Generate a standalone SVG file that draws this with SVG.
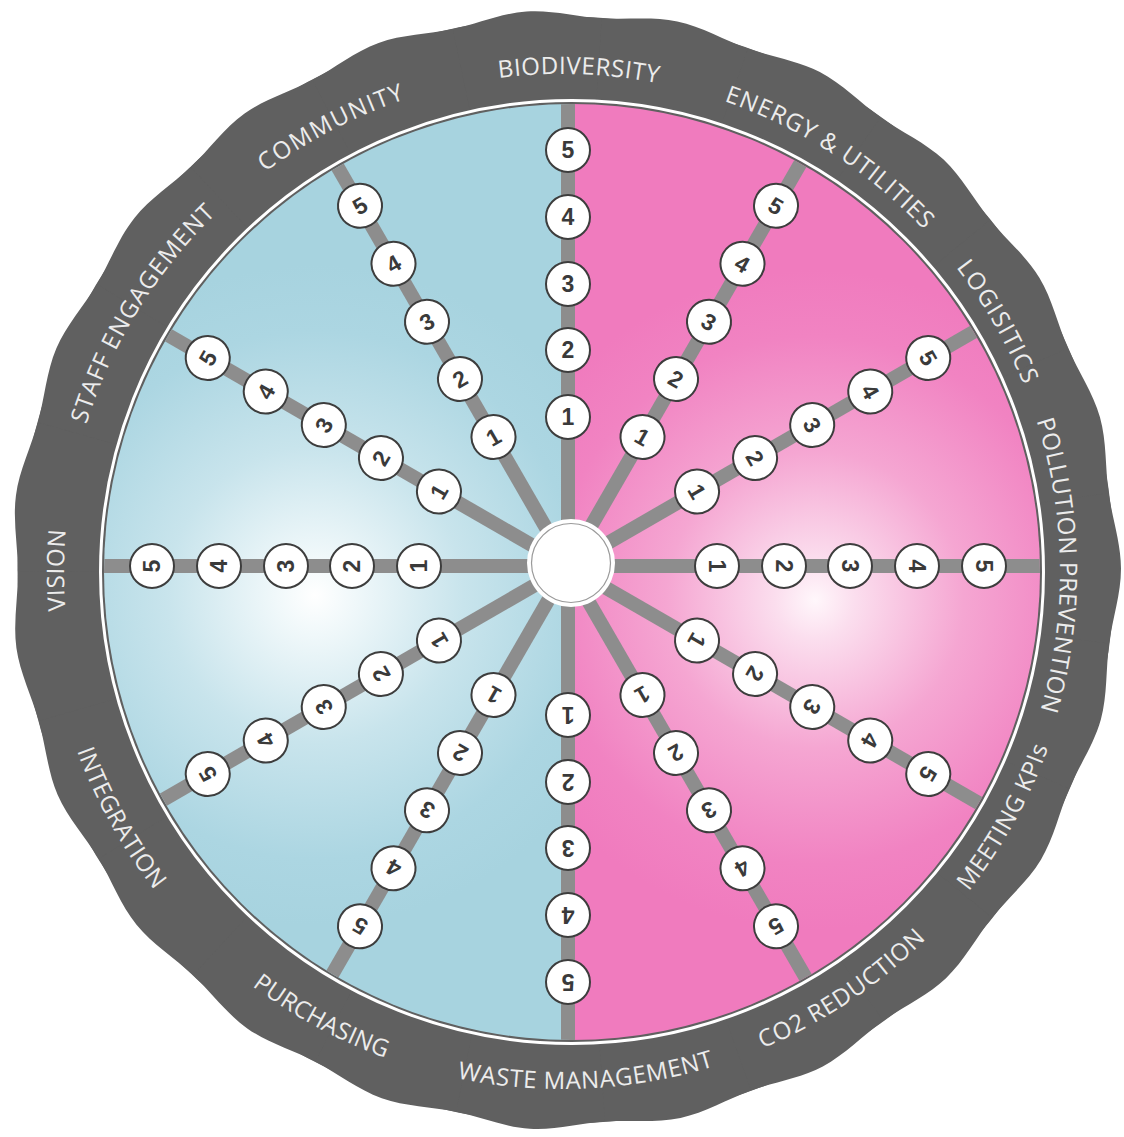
<svg xmlns="http://www.w3.org/2000/svg" width="1124" height="1137" viewBox="0 0 1124 1137">
<defs>
<style>
.ring{fill:#606060}
.lbl{font-family:"Open Sans","Liberation Sans",sans-serif;font-size:24px;fill:#ececec}
.spk{stroke:#8d8d8d;stroke-width:14}
.nc{fill:#ffffff;stroke:#3d3d3d;stroke-width:2}
.nt{font-family:"Liberation Sans",Arial,sans-serif;font-size:23px;font-weight:bold;fill:#3a3a3a;text-anchor:middle}
</style>
<radialGradient id="gBlue" gradientUnits="userSpaceOnUse" cx="315" cy="595" r="330">
<stop offset="0" stop-color="#ffffff"/>
<stop offset="0.12" stop-color="#f0f8fa"/>
<stop offset="0.45" stop-color="#c8e4ec"/>
<stop offset="0.8" stop-color="#acd6e2"/>
<stop offset="1" stop-color="#a7d3df"/>
</radialGradient>
<radialGradient id="gPink" gradientUnits="userSpaceOnUse" cx="815" cy="600" r="330">
<stop offset="0" stop-color="#fff7fb"/>
<stop offset="0.12" stop-color="#fbdeee"/>
<stop offset="0.45" stop-color="#f5a6d2"/>
<stop offset="0.8" stop-color="#f183c2"/>
<stop offset="1" stop-color="#f07bbe"/>
</radialGradient>
<clipPath id="disk"><circle cx="572" cy="572" r="468"/></clipPath>
<path id="bump" d="M 566 570 L 491.52 27.09 C 516.29 23.69 541 15 566 15 C 591 15 615.71 23.69 640.48 27.09 Z"/>
<path id="arcTop" d="M 64 572 A 498 498 0 0 1 1060 572"/>
<path id="arcBot" d="M 45 572 A 517 517 0 0 0 1079 572"/>
</defs>

<g id="outer-ring" class="ring" transform="translate(566 570) scale(1 1.009) translate(-566 -570)">
<circle cx="566" cy="570" r="548.5"/>
<use href="#bump" transform="rotate(11.57 566 570)"/>
<use href="#bump" transform="rotate(27.22 566 570)"/>
<use href="#bump" transform="rotate(42.87 566 570)"/>
<use href="#bump" transform="rotate(58.53 566 570)"/>
<use href="#bump" transform="rotate(74.18 566 570)"/>
<use href="#bump" transform="rotate(89.83 566 570)"/>
<use href="#bump" transform="rotate(105.48 566 570)"/>
<use href="#bump" transform="rotate(121.13 566 570)"/>
<use href="#bump" transform="rotate(136.79 566 570)"/>
<use href="#bump" transform="rotate(152.44 566 570)"/>
<use href="#bump" transform="rotate(168.09 566 570)"/>
<use href="#bump" transform="rotate(183.74 566 570)"/>
<use href="#bump" transform="rotate(199.39 566 570)"/>
<use href="#bump" transform="rotate(215.05 566 570)"/>
<use href="#bump" transform="rotate(230.70 566 570)"/>
<use href="#bump" transform="rotate(246.35 566 570)"/>
<use href="#bump" transform="rotate(262.00 566 570)"/>
<use href="#bump" transform="rotate(277.65 566 570)"/>
<use href="#bump" transform="rotate(293.31 566 570)"/>
<use href="#bump" transform="rotate(308.96 566 570)"/>
<use href="#bump" transform="rotate(324.61 566 570)"/>
<use href="#bump" transform="rotate(340.26 566 570)"/>
<use href="#bump" transform="rotate(355.91 566 570)"/>
</g>

<g id="labels" class="lbl">
<text transform="rotate(1.9 562 572)"><textPath href="#arcTop" startOffset="50%" text-anchor="middle" textLength="160" lengthAdjust="spacing">BIODIVERSITY</textPath></text>
<text transform="rotate(32.8 562 572)"><textPath href="#arcTop" startOffset="50%" text-anchor="middle" textLength="240" lengthAdjust="spacing">ENERGY &amp; UTILITIES</textPath></text>
<text transform="rotate(60.1 562 572)"><textPath href="#arcTop" startOffset="50%" text-anchor="middle" textLength="136" lengthAdjust="spacing">LOGISITICS</textPath></text>
<text transform="rotate(89.2 562 572)"><textPath href="#arcTop" startOffset="50%" text-anchor="middle" textLength="294" lengthAdjust="spacing">POLLUTION PREVENTION</textPath></text>
<text transform="rotate(-89.8 562 572)"><textPath href="#arcTop" startOffset="50%" text-anchor="middle" textLength="81" lengthAdjust="spacing">VISION</textPath></text>
<text transform="rotate(-58.4 562 572)"><textPath href="#arcTop" startOffset="50%" text-anchor="middle" textLength="250" lengthAdjust="spacing">STAFF ENGAGEMENT</textPath></text>
<text transform="rotate(-27.5 562 572)"><textPath href="#arcTop" startOffset="50%" text-anchor="middle" textLength="158" lengthAdjust="spacing">COMMUNITY</textPath></text>
<text transform="rotate(-61 562 572)"><textPath href="#arcBot" startOffset="50%" text-anchor="middle" textLength="165" lengthAdjust="spacing">MEETING KPIs</textPath></text>
<text transform="rotate(-33.8 562 572)"><textPath href="#arcBot" startOffset="50%" text-anchor="middle" textLength="198" lengthAdjust="spacing">CO2 REDUCTION</textPath></text>
<text transform="rotate(-2.7 562 572)"><textPath href="#arcBot" startOffset="50%" text-anchor="middle" textLength="260" lengthAdjust="spacing">WASTE MANAGEMENT</textPath></text>
<text transform="rotate(28.4 562 572)"><textPath href="#arcBot" startOffset="50%" text-anchor="middle" textLength="152" lengthAdjust="spacing">PURCHASING</textPath></text>
<text transform="rotate(60.9 562 572)"><textPath href="#arcBot" startOffset="50%" text-anchor="middle" textLength="160" lengthAdjust="spacing">INTEGRATION</textPath></text>
</g>

<g id="disk-fill">
<circle cx="572" cy="572" r="471.5" fill="none" stroke="#ffffff" stroke-width="3"/>
<rect x="0" y="0" width="569" height="1137" fill="url(#gBlue)" clip-path="url(#disk)"/>
<rect x="569" y="0" width="555" height="1137" fill="url(#gPink)" clip-path="url(#disk)"/>
</g>

<g id="connectors" clip-path="url(#disk)">
<line class="spk" x1="568" y1="566" x2="568" y2="60" transform="rotate(0 568 566)"/>
<line class="spk" x1="568" y1="566" x2="568" y2="60" transform="rotate(30 568 566)"/>
<line class="spk" x1="568" y1="566" x2="568" y2="60" transform="rotate(60 568 566)"/>
<line class="spk" x1="568" y1="566" x2="568" y2="60" transform="rotate(90 568 566)"/>
<line class="spk" x1="568" y1="566" x2="568" y2="60" transform="rotate(120 568 566)"/>
<line class="spk" x1="568" y1="566" x2="568" y2="60" transform="rotate(150 568 566)"/>
<line class="spk" x1="568" y1="566" x2="568" y2="60" transform="rotate(180 568 566)"/>
<line class="spk" x1="568" y1="566" x2="568" y2="60" transform="rotate(210 568 566)"/>
<line class="spk" x1="568" y1="566" x2="568" y2="60" transform="rotate(240 568 566)"/>
<line class="spk" x1="568" y1="566" x2="568" y2="60" transform="rotate(270 568 566)"/>
<line class="spk" x1="568" y1="566" x2="568" y2="60" transform="rotate(300 568 566)"/>
<line class="spk" x1="568" y1="566" x2="568" y2="60" transform="rotate(330 568 566)"/>
</g>

<g id="hub">
<circle cx="571" cy="563" r="44" fill="#ffffff"/>
<circle cx="571" cy="563" r="39.5" fill="none" stroke="#9a9a9a" stroke-width="1.2"/>
</g>

<g id="biodiversity" transform="translate(568 566) rotate(0)">
<g id="bio-1" transform="translate(0 -149)"><circle class="nc" r="22"/><text class="nt" y="8.2">1</text></g>
<g id="bio-2" transform="translate(0 -216)"><circle class="nc" r="22"/><text class="nt" y="8.2">2</text></g>
<g id="bio-3" transform="translate(0 -282)"><circle class="nc" r="22"/><text class="nt" y="8.2">3</text></g>
<g id="bio-4" transform="translate(0 -349)"><circle class="nc" r="22"/><text class="nt" y="8.2">4</text></g>
<g id="bio-5" transform="translate(0 -416)"><circle class="nc" r="22"/><text class="nt" y="8.2">5</text></g>
</g>
<g id="energy" transform="translate(568 566) rotate(30)">
<g id="energy-1" transform="translate(0 -149)"><circle class="nc" r="22"/><text class="nt" y="8.2">1</text></g>
<g id="energy-2" transform="translate(0 -216)"><circle class="nc" r="22"/><text class="nt" y="8.2">2</text></g>
<g id="energy-3" transform="translate(0 -282)"><circle class="nc" r="22"/><text class="nt" y="8.2">3</text></g>
<g id="energy-4" transform="translate(0 -349)"><circle class="nc" r="22"/><text class="nt" y="8.2">4</text></g>
<g id="energy-5" transform="translate(0 -416)"><circle class="nc" r="22"/><text class="nt" y="8.2">5</text></g>
</g>
<g id="logistics" transform="translate(568 566) rotate(60)">
<g id="logistics-1" transform="translate(0 -149)"><circle class="nc" r="22"/><text class="nt" y="8.2">1</text></g>
<g id="logistics-2" transform="translate(0 -216)"><circle class="nc" r="22"/><text class="nt" y="8.2">2</text></g>
<g id="logistics-3" transform="translate(0 -282)"><circle class="nc" r="22"/><text class="nt" y="8.2">3</text></g>
<g id="logistics-4" transform="translate(0 -349)"><circle class="nc" r="22"/><text class="nt" y="8.2">4</text></g>
<g id="logistics-5" transform="translate(0 -416)"><circle class="nc" r="22"/><text class="nt" y="8.2">5</text></g>
</g>
<g id="pollution" transform="translate(568 566) rotate(90)">
<g id="pollution-1" transform="translate(0 -149)"><circle class="nc" r="22"/><text class="nt" y="8.2">1</text></g>
<g id="pollution-2" transform="translate(0 -216)"><circle class="nc" r="22"/><text class="nt" y="8.2">2</text></g>
<g id="pollution-3" transform="translate(0 -282)"><circle class="nc" r="22"/><text class="nt" y="8.2">3</text></g>
<g id="pollution-4" transform="translate(0 -349)"><circle class="nc" r="22"/><text class="nt" y="8.2">4</text></g>
<g id="pollution-5" transform="translate(0 -416)"><circle class="nc" r="22"/><text class="nt" y="8.2">5</text></g>
</g>
<g id="kpis" transform="translate(568 566) rotate(120)">
<g id="kpis-1" transform="translate(0 -149)"><circle class="nc" r="22"/><text class="nt" y="8.2">1</text></g>
<g id="kpis-2" transform="translate(0 -216)"><circle class="nc" r="22"/><text class="nt" y="8.2">2</text></g>
<g id="kpis-3" transform="translate(0 -282)"><circle class="nc" r="22"/><text class="nt" y="8.2">3</text></g>
<g id="kpis-4" transform="translate(0 -349)"><circle class="nc" r="22"/><text class="nt" y="8.2">4</text></g>
<g id="kpis-5" transform="translate(0 -416)"><circle class="nc" r="22"/><text class="nt" y="8.2">5</text></g>
</g>
<g id="co2" transform="translate(568 566) rotate(150)">
<g id="co2-1" transform="translate(0 -149)"><circle class="nc" r="22"/><text class="nt" y="8.2">1</text></g>
<g id="co2-2" transform="translate(0 -216)"><circle class="nc" r="22"/><text class="nt" y="8.2">2</text></g>
<g id="co2-3" transform="translate(0 -282)"><circle class="nc" r="22"/><text class="nt" y="8.2">3</text></g>
<g id="co2-4" transform="translate(0 -349)"><circle class="nc" r="22"/><text class="nt" y="8.2">4</text></g>
<g id="co2-5" transform="translate(0 -416)"><circle class="nc" r="22"/><text class="nt" y="8.2">5</text></g>
</g>
<g id="waste" transform="translate(568 566) rotate(180)">
<g id="waste-1" transform="translate(0 -149)"><circle class="nc" r="22"/><text class="nt" y="8.2">1</text></g>
<g id="waste-2" transform="translate(0 -216)"><circle class="nc" r="22"/><text class="nt" y="8.2">2</text></g>
<g id="waste-3" transform="translate(0 -282)"><circle class="nc" r="22"/><text class="nt" y="8.2">3</text></g>
<g id="waste-4" transform="translate(0 -349)"><circle class="nc" r="22"/><text class="nt" y="8.2">4</text></g>
<g id="waste-5" transform="translate(0 -416)"><circle class="nc" r="22"/><text class="nt" y="8.2">5</text></g>
</g>
<g id="purchasing" transform="translate(568 566) rotate(210)">
<g id="purchasing-1" transform="translate(0 -149)"><circle class="nc" r="22"/><text class="nt" y="8.2">1</text></g>
<g id="purchasing-2" transform="translate(0 -216)"><circle class="nc" r="22"/><text class="nt" y="8.2">2</text></g>
<g id="purchasing-3" transform="translate(0 -282)"><circle class="nc" r="22"/><text class="nt" y="8.2">3</text></g>
<g id="purchasing-4" transform="translate(0 -349)"><circle class="nc" r="22"/><text class="nt" y="8.2">4</text></g>
<g id="purchasing-5" transform="translate(0 -416)"><circle class="nc" r="22"/><text class="nt" y="8.2">5</text></g>
</g>
<g id="integration" transform="translate(568 566) rotate(240)">
<g id="integration-1" transform="translate(0 -149)"><circle class="nc" r="22"/><text class="nt" y="8.2">1</text></g>
<g id="integration-2" transform="translate(0 -216)"><circle class="nc" r="22"/><text class="nt" y="8.2">2</text></g>
<g id="integration-3" transform="translate(0 -282)"><circle class="nc" r="22"/><text class="nt" y="8.2">3</text></g>
<g id="integration-4" transform="translate(0 -349)"><circle class="nc" r="22"/><text class="nt" y="8.2">4</text></g>
<g id="integration-5" transform="translate(0 -416)"><circle class="nc" r="22"/><text class="nt" y="8.2">5</text></g>
</g>
<g id="vision" transform="translate(568 566) rotate(270)">
<g id="vision-1" transform="translate(0 -149)"><circle class="nc" r="22"/><text class="nt" y="8.2">1</text></g>
<g id="vision-2" transform="translate(0 -216)"><circle class="nc" r="22"/><text class="nt" y="8.2">2</text></g>
<g id="vision-3" transform="translate(0 -282)"><circle class="nc" r="22"/><text class="nt" y="8.2">3</text></g>
<g id="vision-4" transform="translate(0 -349)"><circle class="nc" r="22"/><text class="nt" y="8.2">4</text></g>
<g id="vision-5" transform="translate(0 -416)"><circle class="nc" r="22"/><text class="nt" y="8.2">5</text></g>
</g>
<g id="staff" transform="translate(568 566) rotate(300)">
<g id="staff-1" transform="translate(0 -149)"><circle class="nc" r="22"/><text class="nt" y="8.2">1</text></g>
<g id="staff-2" transform="translate(0 -216)"><circle class="nc" r="22"/><text class="nt" y="8.2">2</text></g>
<g id="staff-3" transform="translate(0 -282)"><circle class="nc" r="22"/><text class="nt" y="8.2">3</text></g>
<g id="staff-4" transform="translate(0 -349)"><circle class="nc" r="22"/><text class="nt" y="8.2">4</text></g>
<g id="staff-5" transform="translate(0 -416)"><circle class="nc" r="22"/><text class="nt" y="8.2">5</text></g>
</g>
<g id="community" transform="translate(568 566) rotate(330)">
<g id="community-1" transform="translate(0 -149)"><circle class="nc" r="22"/><text class="nt" y="8.2">1</text></g>
<g id="community-2" transform="translate(0 -216)"><circle class="nc" r="22"/><text class="nt" y="8.2">2</text></g>
<g id="community-3" transform="translate(0 -282)"><circle class="nc" r="22"/><text class="nt" y="8.2">3</text></g>
<g id="community-4" transform="translate(0 -349)"><circle class="nc" r="22"/><text class="nt" y="8.2">4</text></g>
<g id="community-5" transform="translate(0 -416)"><circle class="nc" r="22"/><text class="nt" y="8.2">5</text></g>
</g>
</svg>
